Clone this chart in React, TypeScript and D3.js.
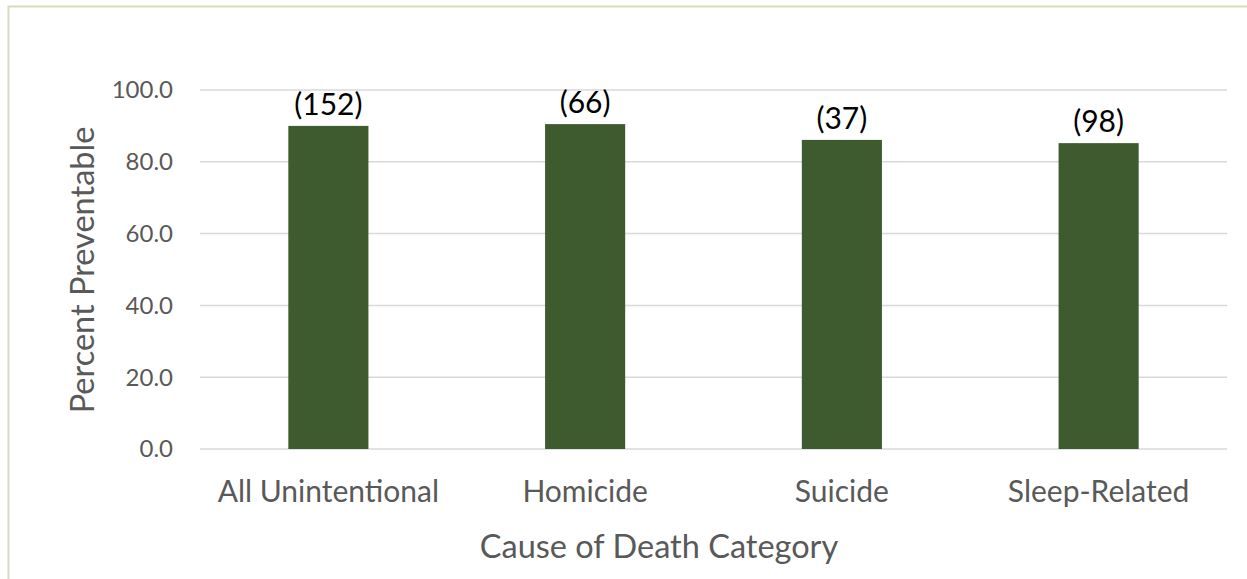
import * as d3 from 'd3';

const categories = ['All Unintentional', 'Homicide', 'Suicide', 'Sleep-Related'];
const percentPreventable = [90.0, 90.5, 86.1, 85.2];
const counts = ['(152)', '(66)', '(37)', '(98)'];
const yTicks = [0, 20, 40, 60, 80, 100];

const W = 1247;
const H = 579;
const FONT = 'Lato, "Open Sans", sans-serif';

export default function App() {
  const x = d3.scaleBand<string>()
    .domain(categories)
    .range([200, 1227])
    .paddingInner(0.688)
    .paddingOuter(0.344);

  const y = d3.scaleLinear()
    .domain([0, 100])
    .range([449, 90]);

  const fmt = d3.format('.1f');

  return (
    <svg width={W} height={H} style={{ position: 'absolute', left: 0, top: 0, background: '#fff' }}>
      {/* outer frame, only left and top edges show in the picture */}
      <path d={`M8.5,${H} V6.5 H${W}`} fill="none" stroke="#d3debf" strokeWidth={2} />

      {yTicks.map(t => (
        <g key={t}>
          <line x1={200} x2={1227} y1={y(t)} y2={y(t)} stroke="#d9d9d9" strokeWidth={1.5} />
          <text x={173} y={y(t)} dy="0.35em" textAnchor="end" fontFamily={FONT} fontSize={24} fill="#595959">
            {fmt(t)}
          </text>
        </g>
      ))}

      {categories.map((c, i) => (
        <g key={c}>
          <rect
            x={x(c)}
            y={y(percentPreventable[i])}
            width={x.bandwidth()}
            height={y(0) - y(percentPreventable[i])}
            fill="#3e5b2f"
          />
          <text
            x={(x(c) as number) + x.bandwidth() / 2}
            y={y(percentPreventable[i]) - 11}
            textAnchor="middle"
            fontFamily={FONT}
            fontSize={30}
            fill="#000"
          >
            {counts[i]}
          </text>
          <text
            x={(x(c) as number) + x.bandwidth() / 2}
            y={502}
            textAnchor="middle"
            fontFamily={FONT}
            fontSize={30}
            fill="#595959"
          >
            {c}
          </text>
        </g>
      ))}

      <text x={659} y={558} textAnchor="middle" fontFamily={FONT} fontSize={32.5} fill="#595959">
        Cause of Death Category
      </text>
      <text
        transform="translate(94,270) rotate(-90)"
        textAnchor="middle"
        fontFamily={FONT}
        fontSize={32.5}
        fill="#595959"
      >
        Percent Preventable
      </text>
    </svg>
  );
}
